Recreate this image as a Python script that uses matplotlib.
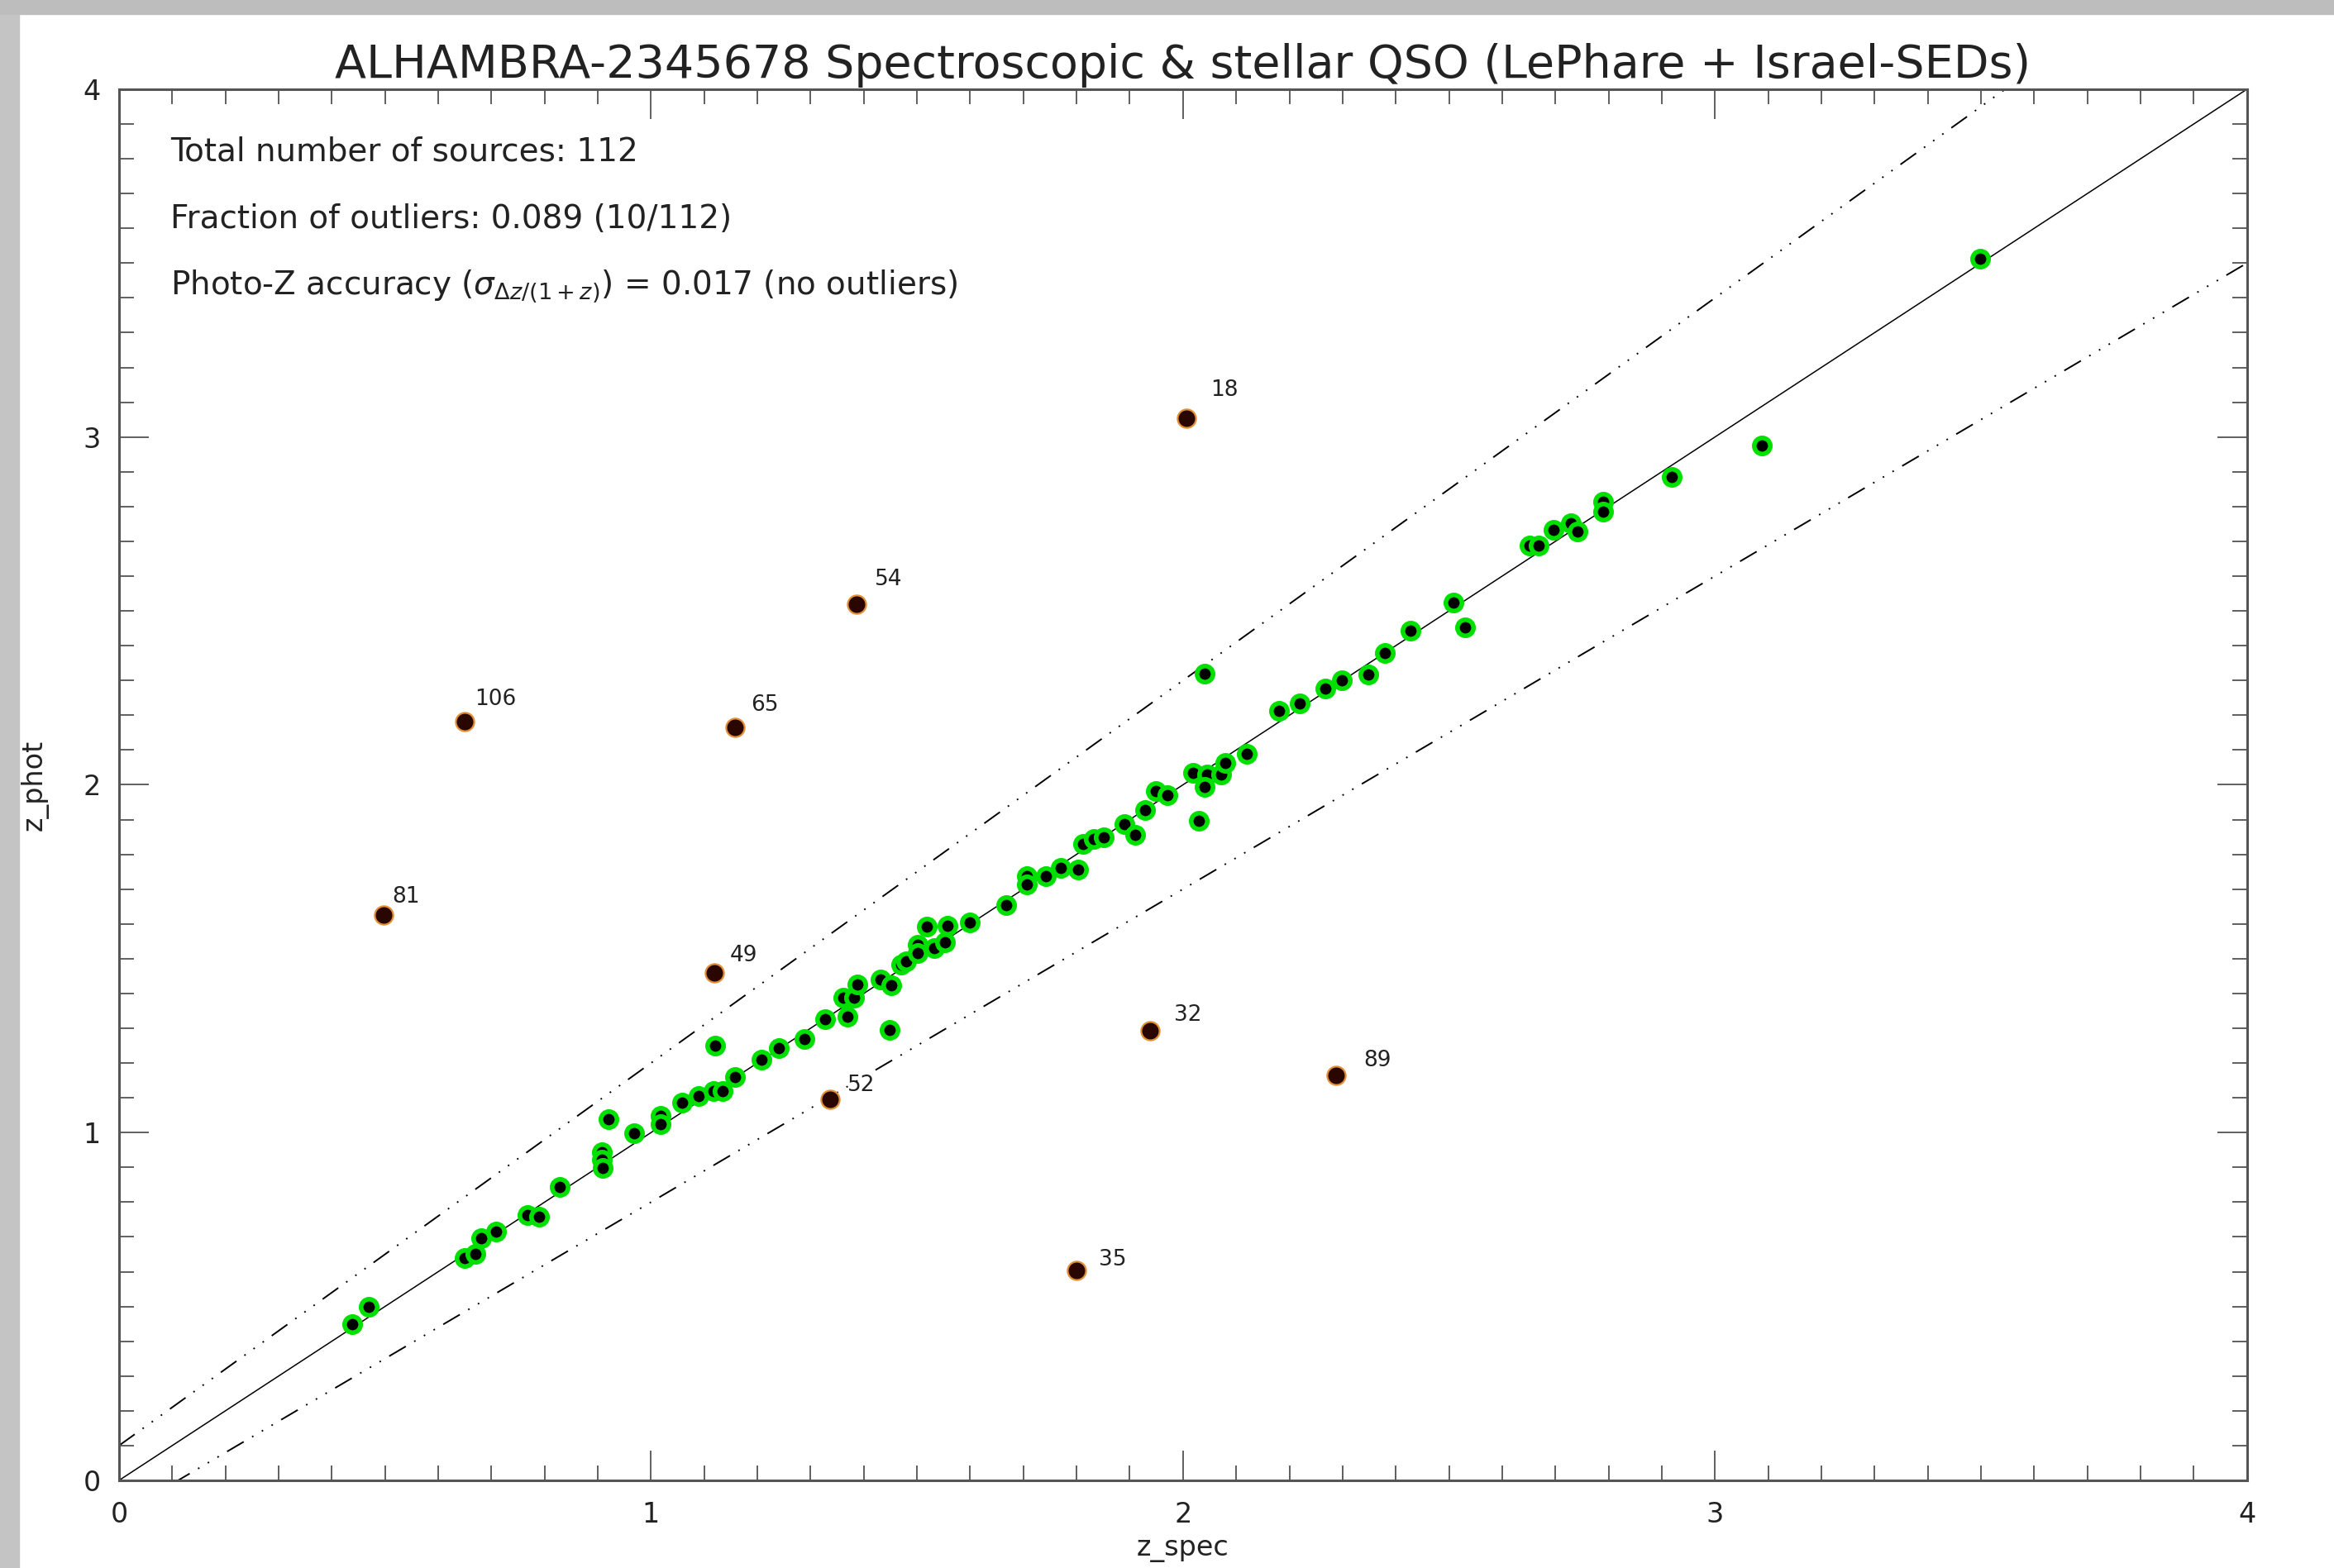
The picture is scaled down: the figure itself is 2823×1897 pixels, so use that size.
import numpy as np
import matplotlib
matplotlib.use("Agg")
from matplotlib import pyplot as plt
from matplotlib.patches import Rectangle

# good photo-z sources (z_spec, z_phot)
zspec_good = [0.439, 0.469, 0.649, 0.670, 0.680, 0.709, 0.768, 0.789, 0.829, 0.908,
              0.908, 0.910, 0.920, 0.968, 1.018, 1.018, 1.058, 1.089, 1.118, 1.134,
              1.158, 1.120, 1.208, 1.240, 1.289, 1.328, 1.369, 1.361, 1.382, 1.388,
              1.449, 1.431, 1.452, 1.470, 1.480, 1.501, 1.501, 1.519, 1.558, 1.532,
              1.553, 1.600, 1.668, 1.707, 1.707, 1.742, 1.770, 1.803, 1.812, 1.832,
              1.851, 1.890, 1.910, 1.929, 2.030, 1.949, 1.970, 2.019, 2.045, 2.071,
              2.040, 2.079, 2.120, 2.180, 2.219, 2.268, 2.299, 2.348, 2.379, 2.040,
              2.428, 2.509, 2.530, 2.651, 2.669, 2.697, 2.729, 2.742, 2.789, 2.789,
              2.918, 3.088, 3.498]
zphot_good = [0.448, 0.499, 0.640, 0.652, 0.696, 0.715, 0.763, 0.759, 0.844, 0.944,
              0.923, 0.899, 1.038, 0.997, 1.048, 1.024, 1.086, 1.105, 1.119, 1.119,
              1.159, 1.250, 1.210, 1.242, 1.268, 1.325, 1.333, 1.389, 1.389, 1.427,
              1.295, 1.440, 1.424, 1.484, 1.492, 1.539, 1.516, 1.593, 1.595, 1.531,
              1.547, 1.603, 1.655, 1.737, 1.714, 1.737, 1.761, 1.757, 1.829, 1.844,
              1.848, 1.888, 1.856, 1.927, 1.896, 1.983, 1.971, 2.034, 2.030, 2.030,
              1.995, 2.062, 2.090, 2.213, 2.233, 2.276, 2.301, 2.316, 2.379, 2.320,
              2.442, 2.523, 2.452, 2.688, 2.688, 2.734, 2.751, 2.728, 2.813, 2.786,
              2.885, 2.976, 3.513]

# outliers
out_ids = ["18", "54", "106", "65", "81", "49", "32", "89", "52", "35"]
zspec_out = [2.006, 1.387, 0.649, 1.158, 0.498, 1.119, 1.938, 2.288, 1.337, 1.799]
zphot_out = [3.054, 2.520, 2.182, 2.165, 1.626, 1.459, 1.292, 1.164, 1.095, 0.603]

title = "ALHAMBRA-2345678 Spectroscopic & stellar QSO (LePhare + Israel-SEDs)"
info_lines = ["Total number of sources: 112",
              "Fraction of outliers: 0.089 (10/112)",
              r"Photo-Z accuracy ($\sigma_{\Delta z/(1+z)}$) = 0.017 (no outliers)"]

fig = plt.figure(figsize=(28.23, 18.97), dpi=100)
# grey frame left/top like the screenshot
fig.patches.append(Rectangle((0, 0), 0.008, 1, transform=fig.transFigure, color="#c4c4c4", zorder=0))
fig.patches.append(Rectangle((0, 0.991), 1, 0.009, transform=fig.transFigure, color="#bdbdbd", zorder=0))

ax = fig.add_axes([0.051, 0.0559, 0.9117, 0.8872])

# 1:1 line and outlier limits |dz|/(1+z) = 0.1
xx = np.linspace(0, 4, 200)
ax.plot(xx, xx, color="black", lw=1.1, zorder=1)
dashdot3 = (0, (12, 6, 1, 6, 1, 6, 1, 6))
ax.plot(xx, xx + 0.1 * (1 + xx), color="black", lw=1.4, linestyle=dashdot3, zorder=1)
ax.plot(xx, xx - 0.1 * (1 + xx), color="black", lw=1.4, linestyle=dashdot3, zorder=1)

ax.plot(zspec_good, zphot_good, "o", ms=14, mfc="black", mec="#00e000", mew=4, zorder=3)
ax.plot(zspec_out, zphot_out, "o", ms=16, mfc="#2a0600", mec="#e0903a", mew=1.6, zorder=3)

for lab, xs, yp in zip(out_ids, zspec_out, zphot_out):
    ax.text(1.02 * xs + 0.006, 1.02 * yp + 0.02, lab, fontsize=19, ha="left", va="center",
            color="#222222")

for i, line in enumerate(info_lines):
    ax.text(0.024, 0.955 - i * 0.0485, line, transform=ax.transAxes, fontsize=28,
            ha="left", va="center", color="#222222")

ax.set_xlim(0, 4)
ax.set_ylim(0, 4)
ax.set_xticks([0, 1, 2, 3, 4])
ax.set_yticks([0, 1, 2, 3, 4])
ax.set_xticks(np.arange(0, 4.01, 0.1), minor=True)
ax.set_yticks(np.arange(0, 4.01, 0.1), minor=True)
ax.tick_params(which="both", direction="in", top=True, right=True, color="#444444", width=1.2)
ax.tick_params(which="major", length=26, labelsize=24, labelcolor="#222222")
ax.tick_params(which="minor", length=13)
ax.tick_params(axis="x", which="major", pad=18)
ax.tick_params(axis="y", which="major", pad=16)
for s in ax.spines.values():
    s.set_linewidth(2.2)
    s.set_color("#555555")

ax.set_xlabel("z_spec", fontsize=24, labelpad=6, color="#222222")
ax.set_ylabel("z_phot", fontsize=24, labelpad=30, color="#222222")
ax.set_title(title, fontsize=40, pad=10, color="#222222")

fig.savefig("out.png", dpi=100, facecolor="white")
